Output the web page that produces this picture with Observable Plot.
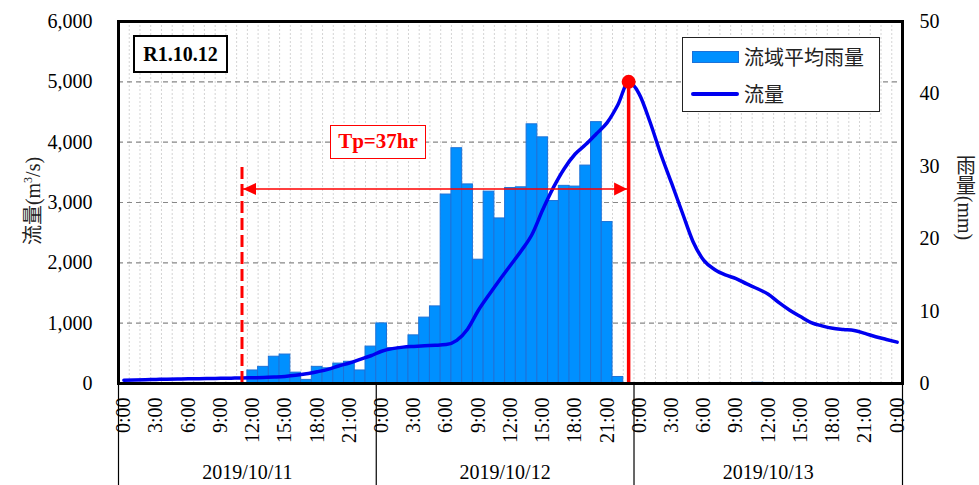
<!DOCTYPE html>
<html><head><meta charset="utf-8">
<script src="https://cdn.jsdelivr.net/npm/d3@7"></script>
<script src="https://cdn.jsdelivr.net/npm/@observablehq/plot@0.6"></script>
<style>
body{margin:0;background:#fff;}
#wrap{position:relative;width:979px;height:485px;font-family:"Liberation Serif","Times New Roman","Noto Sans CJK JP",serif;}
#wrap svg{position:absolute;left:0;top:0;}
#wrap svg text{font-family:"Liberation Serif","Times New Roman",serif !important;}
.ov{position:absolute;box-sizing:border-box;}
</style></head><body><div id="wrap"></div>
<script>
// hourly categories 2019/10/11 0:00 ... 2019/10/14 0:00 (73 categories)
const hourIndex = d3.range(73);
// 流域平均雨量 (mm/hr)
const rain = [
  0,0,0,0,0,0,0,0,0,0,0,0,
  1.8,2.3,3.7,4.0,1.5,0.5,2.3,2.1,2.75,3.0,1.8,5.1,
  8.3,4.9,5.0,6.65,9.1,10.65,26.1,32.5,27.5,17.1,26.5,22.8,
  27.0,27.1,35.8,34.0,25.2,27.3,27.2,30.1,36.1,22.3,0.9,0,
  0,0,0,0,0,0,0,0,0,0,0,0.1,
  0,0,0,0,0,0,0,0,0,0,0,0,0
];
// 流量 (m3/s)
const flow = [
  55,60,64,68,72,75,78,80,83,86,89,92,
  96,100,108,118,135,160,195,235,290,340,400,460,
  535,578,603,615,625,632,645,716,900,1210,1470,1720,
  1960,2200,2470,2880,3250,3560,3800,3960,4140,4324,4620,5000,
  4793,4330,3800,3320,2830,2350,2040,1890,1800,1740,1650,1570,
  1480,1340,1215,1110,1010,955,915,895,878,830,775,730,685
];
const tickHours = [0,3,6,9,12,15,18,21,24,27,30,33,36,39,42,45,48,51,54,57,60,63,66,69,72];
const tickLabels = ["0:00","3:00","6:00","9:00","12:00","15:00","18:00","21:00",
  "0:00","3:00","6:00","9:00","12:00","15:00","18:00","21:00",
  "0:00","3:00","6:00","9:00","12:00","15:00","18:00","21:00","0:00"];
const dayBounds = [0,24,48,73];
const dates = ["2019/10/11","2019/10/12","2019/10/13"];
const flowTicks = [0,1000,2000,3000,4000,5000,6000];
const rainTicks = [0,10,20,30,40,50];
const rainMax = 50, flowMax = 6000;
const peakHour = 47, peakFlow = 5000;
const startHour = 11, startTop = 3590, arrowLevel = 3225;
const eventLabel = "R1.10.12", tpLabel = "Tp=37hr";

const k = flowMax / rainMax;
const serif = '"Liberation Serif","Times New Roman",serif';
const rainData = hourIndex.map(i => ({i, v: rain[i]})).filter(d => d.v > 0);
const flowData = hourIndex.map(i => ({i, v: flow[i]}));
const triRight = {draw(c){c.moveTo(0,0);c.lineTo(-13,-6.5);c.lineTo(-13,6.5);c.closePath();}};
const triLeft = {draw(c){c.moveTo(0,0);c.lineTo(13,-6);c.lineTo(13,6);c.closePath();}};

const chart = Plot.plot({
  width: 979, height: 485,
  marginLeft: 118, marginRight: 77, marginTop: 21, marginBottom: 102,
  x: {domain: [0, 73], axis: null},
  y: {domain: [0, flowMax], axis: null, label: null},
  style: {fontSize: "20px", background: "transparent", color: "#000"},
  marks: [
    Plot.ruleX(d3.range(1, 73), {stroke: "#d4d4d4", strokeWidth: 1, strokeDasharray: "2,2"}),
    Plot.ruleY(flowTicks.filter(d => d > 0 && d < flowMax), {stroke: "#888", strokeWidth: 1.2, strokeDasharray: "5,4"}),
    Plot.rectY(rainData, {x1: d => d.i, x2: d => d.i + 1, y: d => d.v * k, fill: "#0090ff", stroke: "#1c72d8", strokeWidth: 1}),
    Plot.line(flowData, {x: d => d.i + 0.5, y: "v", stroke: "#0000f0", strokeWidth: 3.5, curve: "monotone-x"}),
    Plot.ruleX([startHour + 0.5], {y1: 0, y2: startTop, stroke: "#ff0000", strokeWidth: 3, strokeDasharray: "12,5"}),
    Plot.ruleX([peakHour + 0.5], {y1: 0, y2: peakFlow, stroke: "#ff0000", strokeWidth: 3.5}),
    Plot.ruleY([arrowLevel], {x1: startHour + 0.5, x2: peakHour + 0.5, stroke: "#ff0000", strokeWidth: 1.5}),
    Plot.dot([arrowLevel], {x: peakHour + 0.5, y: d => d, symbol: triRight, fill: "#ff0000", stroke: "none", dx: -1.5}),
    Plot.dot([arrowLevel], {x: startHour + 0.5, y: d => d, symbol: triLeft, fill: "#ff0000", stroke: "none", dx: 1}),
    Plot.dot([peakFlow], {x: peakHour + 0.5, y: d => d, r: 7, fill: "#ff0000", stroke: "none"}),
    Plot.frame({stroke: "#000", strokeWidth: 3}),
    Plot.axisY({anchor: "left", ticks: flowTicks, tickSize: 0, tickPadding: 26, tickFormat: d3.format(","), label: null, fontSize: 20}),
    Plot.axisY({anchor: "right", ticks: rainTicks.map(d => d * k), tickSize: 0, tickPadding: 17, tickFormat: d => d / k, label: null, fontSize: 20}),
    Plot.text(tickHours, {x: d => d + 0.5, y: 0, text: (d, i) => tickLabels[i], rotate: -90, textAnchor: "end", dy: 14, fontSize: 20}),
    Plot.ruleX(dayBounds, {y1: 0, y2: -1700, stroke: "#000", strokeWidth: 1.2}),
    Plot.text(dates, {x: (d, i) => (dayBounds[i] + dayBounds[i + 1]) / 2, y: 0, dy: 89, text: d => d, fontSize: 20})
  ]
});
const wrap = document.getElementById("wrap");
wrap.appendChild(chart);
d3.select(chart).attr("font-family", serif).selectAll("text").style("font-family", serif);

function ov(html, css, parent){const d=document.createElement("div");d.className="ov";d.style.cssText=css;d.innerHTML=html;(parent||wrap).appendChild(d);return d;}
// event box
ov(eventLabel, "left:133px;top:35px;width:95px;height:38px;border:2px solid #000;background:#fff;font-weight:bold;font-size:20px;line-height:34px;text-align:center;");
// Tp box
ov(tpLabel, "left:330px;top:125px;width:96px;height:34px;border:1.5px solid #ff0000;background:#fff;color:#ff0000;font-weight:bold;font-size:21px;line-height:31px;text-align:center;");
// legend
const lg = ov("", "left:682px;top:37px;width:198px;height:75px;border:1.5px solid #222;background:#fff;");
ov("", "left:9px;top:13px;width:47px;height:12px;background:#0090ff;border:1px solid #1c72d8;", lg);
ov("流域平均雨量", 'left:61px;top:5px;font-family:"Noto Sans CJK JP",sans-serif;font-size:20px;line-height:28px;color:#222;white-space:nowrap;', lg);
ov("", "left:8px;top:54px;width:48px;height:4px;background:#0000f0;border-radius:2px;", lg);
ov("流量", 'left:61px;top:42px;font-family:"Noto Sans CJK JP",sans-serif;font-size:20px;line-height:28px;color:#222;white-space:nowrap;', lg);
// axis titles
ov("流量(m<sup style='font-size:12px;vertical-align:8px'>3</sup>/s)", "left:30px;top:201px;transform:translate(-50%,-50%) rotate(-90deg);font-size:20px;white-space:nowrap;color:#222;line-height:24px;");
ov("雨量(mm)", "left:965px;top:198px;transform:translate(-50%,-50%);writing-mode:vertical-rl;font-size:20px;white-space:nowrap;color:#222;");
</script></body></html>
